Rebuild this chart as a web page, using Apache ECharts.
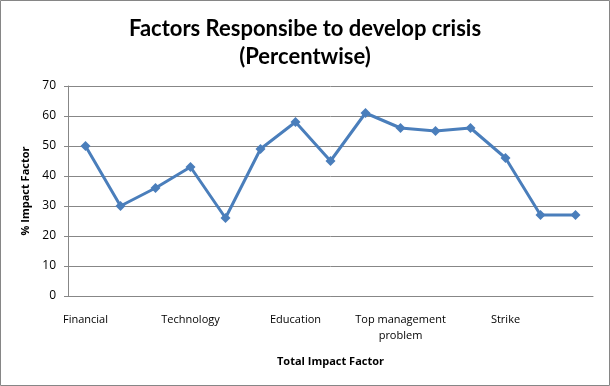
<!DOCTYPE html>
<html><head><meta charset="utf-8">
<script src="https://cdn.jsdelivr.net/npm/echarts@6/dist/echarts.min.js"></script>
<style>html,body{margin:0;padding:0;background:#fff}#c{width:610px;height:386px}</style>
</head><body><div id="c"></div>
<script>
const categories = ['Financial','','','Technology','','','Education','','','Top management\nproblem','','','Strike','',''];
const values = [50,30,36,43,26,49,58,45,61,56,55,56,46,27,27];
const yTicks = [0,10,20,30,40,50,60,70];
const titleText = 'Factors Responsibe to develop crisis\n(Percentwise)';
const xName = 'Total Impact Factor';
const yName = '% Impact Factor';

const chart = echarts.init(document.getElementById('c'));
chart.setOption({
  animation:false,
  title:{text:titleText,left:'center',top:10,itemGap:0,
    textStyle:{fontFamily:'Lato',fontWeight:'bold',fontSize:22,color:'#000',lineHeight:28}},
  graphic:[{type:'rect',shape:{x:0.5,y:0.5,width:609,height:385},style:{fill:'none',stroke:'#868686',lineWidth:1},silent:true}],
  grid:{left:68,right:17,top:86,bottom:90,containLabel:false},
  xAxis:{type:'category',data:categories,boundaryGap:true,
    name:xName,nameLocation:'middle',nameGap:60,
    nameTextStyle:{fontFamily:'Open Sans',fontWeight:'bold',fontSize:11,color:'#000'},
    axisLine:{lineStyle:{color:'#878787',width:1}},axisTick:{show:false},
    axisLabel:{interval:2,margin:16,fontFamily:'Open Sans',fontSize:11,color:'#000',lineHeight:16}},
  yAxis:{type:'value',min:yTicks[0],max:yTicks[yTicks.length-1],interval:10,
    name:yName,nameLocation:'middle',nameGap:35,nameRotate:90,
    nameTextStyle:{fontFamily:'Open Sans',fontWeight:'bold',fontSize:11,color:'#000'},
    axisLine:{show:true,lineStyle:{color:'#878787'}},
    axisTick:{show:true,length:4,lineStyle:{color:'#878787'}},
    axisLabel:{margin:12,fontFamily:'Open Sans',fontSize:12,color:'#000'},
    splitLine:{lineStyle:{color:'#878787',width:1}}},
  series:[{type:'line',data:values,symbol:'diamond',symbolSize:10,
    lineStyle:{color:'#4a7ebb',width:3},itemStyle:{color:'#4a7ebb'}}]
});
</script></body></html>
